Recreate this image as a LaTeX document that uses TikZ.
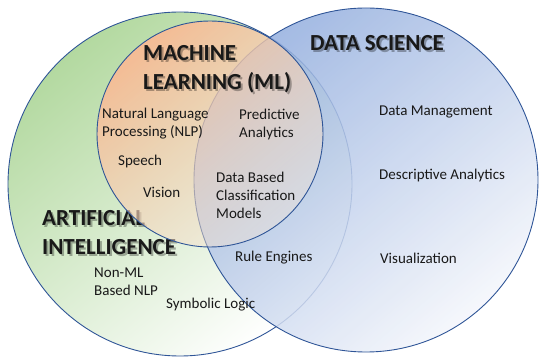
\documentclass[tikz,border=0pt]{standalone}
\usepackage{fontspec}
\setmainfont{Carlito}
\usetikzlibrary{fadings}
\definecolor{edgeC}{HTML}{2F5597}
\definecolor{aiG}{HTML}{B3D9A0}
\definecolor{mlO}{HTML}{F5BC95}
\definecolor{mlL}{HTML}{F6E6D6}
\definecolor{dsB}{HTML}{93AEDE}
\definecolor{dsL}{HTML}{F4F6FB}
\tikzfading[name=mlfade, top color=transparent!0, bottom color=transparent!62]
\begin{document}
\begin{tikzpicture}[x=1pt,y=-1pt,
  circ/.style={draw=edgeC, line width=0.9pt},
  lbl/.style={font=\fontsize{15}{18}\selectfont, anchor=west, align=left, inner sep=0pt, text=black!90},
  ttl/.style={font=\fontsize{23}{29}\bfseries, anchor=west, align=left, inner sep=0pt, text=black!90},
  ttlshadow/.style={ttl, text=black, opacity=0.3}]
\useasboundingbox (0,0) rectangle (539,358);
% Artificial intelligence circle
\shade[circ, top color=aiG, bottom color=white, shading angle=40] (180,184) circle[radius=172];
\node[ttlshadow] (aiS) at (44,234.5) {ARTIFICIAL\\INTELLIGENCE};
\node[ttl] (ai) at (42,232.5) {ARTIFICIAL\\INTELLIGENCE};
% Data science circle
\shade[circ, top color=dsB, bottom color=dsL, shading angle=40, fill opacity=0.85] (366,180) circle[radius=172];
% Machine learning circle
\shade[top color=mlO, bottom color=mlL, shading angle=40, path fading=mlfade, fading angle=40] (210,134) circle[radius=113];
\draw[circ] (210,134) circle[radius=113];
% titles
\node[ttlshadow] (mlS) at (145,71.5) {MACHINE\\LEARNING (ML)};
\node[ttl] (ml) at (143,69.5) {MACHINE\\LEARNING (ML)};
\node[ttlshadow] (dsS) at (312,45) {DATA SCIENCE};
\node[ttl] (ds) at (310,43) {DATA SCIENCE};
% labels
\node[lbl] (nlp) at (102,123.5) {Natural Language\\Processing (NLP)};
\node[lbl] (speech) at (118,162) {Speech};
\node[lbl] (vision) at (143,192) {Vision};
\node[lbl] (pred) at (239,124.5) {Predictive\\Analytics};
\node[lbl] (dbc) at (216,195) {Data Based\\Classification\\Models};
\node[lbl] (rule) at (235,258) {Rule Engines};
\node[lbl] (nonml) at (94,281.5) {Non-ML\\Based NLP};
\node[lbl] (sym) at (166,305) {Symbolic Logic};
\node[lbl] (dm) at (379,112) {Data Management};
\node[lbl] (da) at (379,176) {Descriptive Analytics};
\node[lbl] (vis) at (380,258) {Visualization};
\end{tikzpicture}
\end{document}
